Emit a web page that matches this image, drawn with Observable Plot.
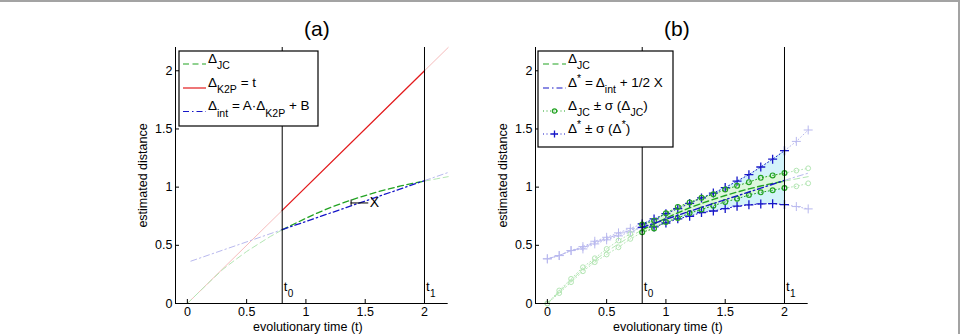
<!DOCTYPE html>
<html>
<head>
<meta charset="utf-8">
<script src="https://cdn.jsdelivr.net/npm/d3@7"></script>
<script src="https://cdn.jsdelivr.net/npm/@observablehq/plot@0.6"></script>
<style>
  body { margin: 0; background: #fff; font-family: "Liberation Sans", Arial, Helvetica, sans-serif; }
  #wrap { position: relative; width: 962px; height: 334px; overflow: hidden; background: #fff; }
  #frameTop { position: absolute; left: 0; top: 0; width: 960px; height: 2px; background: #a3a3a3; }
  #frameRight { position: absolute; left: 958px; top: 0; width: 2px; height: 334px; background: #a3a3a3; }
  .panel { position: absolute; top: 0; }
</style>
</head>
<body>
<div id="wrap">
  <div id="frameTop"></div>
  <div id="frameRight"></div>
  <div class="panel" id="pa" style="left:130px"></div>
  <div class="panel" id="pb" style="left:490px"></div>
</div>
<script>
// ---------- data ----------
const times   = [0,0.1,0.2,0.3,0.4,0.5,0.6,0.7,0.8,0.9,1.0,1.1,1.2,1.3,1.4,1.5,1.6,1.7,1.8,1.9,2.0,2.1,2.2];
const jcCurve = [0,0.100,0.198,0.294,0.372,0.447,0.512,0.576,0.633,0.683,0.733,0.779,0.822,0.860,0.895,0.928,0.958,0.985,1.010,1.032,1.052,1.071,1.090];
const dsCurve = [0.384,0.412,0.455,0.479,0.524,0.558,0.594,0.631,0.655,0.689,0.724,0.758,0.792,0.826,0.859,0.892,0.925,0.958,0.991,1.025,1.058,1.090,1.120];
const jcUpper = [0,0.112,0.212,0.312,0.389,0.469,0.541,0.598,0.678,0.712,0.776,0.830,0.869,0.908,0.938,0.979,1.011,1.043,1.080,1.101,1.121,1.142,1.162];
const jcLower = [0,0.089,0.183,0.277,0.355,0.421,0.483,0.555,0.612,0.645,0.700,0.735,0.777,0.808,0.841,0.873,0.900,0.932,0.955,0.973,0.993,1.007,1.033];
const dsUpper = [0.384,0.412,0.455,0.489,0.535,0.569,0.607,0.646,0.684,0.727,0.772,0.815,0.860,0.907,0.949,0.996,1.052,1.107,1.173,1.240,1.313,1.393,1.491];
const dsLower = [0.384,0.412,0.455,0.469,0.512,0.547,0.581,0.615,0.655,0.658,0.692,0.728,0.750,0.782,0.795,0.816,0.836,0.848,0.856,0.858,0.850,0.833,0.813];
const k2pT = [0, 0.8, 2.0, 2.2];
const k2pV = [0, 0.8, 2.0, 2.2];
const intT = [0.03, 0.8, 2.0, 2.2];
const intV = [0.364, 0.635, 1.056, 1.126];
const tBounds = [0.8, 2.0];            // t0, t1
const tLabels = ["0", "1"];
const xMarkT = [1.381, 1.53];           // "X" annotation
const xMarkV = 0.864;
const xTicks = [0, 0.5, 1, 1.5, 2];
const yTicks = [0, 0.5, 1, 1.5, 2];
const titles = ["(a)", "(b)"];

// ---------- styling ----------
const C = {
  red: "#e31a1c", redL: "#f6bcbc",
  green: "#23a323", greenL: "#b4e6b4",
  blue: "#1717c8", blueL: "#b9b9ee",
  cyan: "#d3f3fa", greenFill: "#e0f7d4"
};
const DASH = "6,3.5", DASHDOT = "6,3,1.5,3", DOT = "1,2.5";
const FONT = "'Liberation Sans', Arial, Helvetica, sans-serif";

const [t0, t1] = tBounds;
const eps = 1e-9;
const rows = times.map((t, i) => ({t, jc: jcCurve[i], ds: dsCurve[i], jcU: jcUpper[i], jcL: jcLower[i], dsU: dsUpper[i], dsL: dsLower[i]}));
const inR = (d) => d.t >= t0 - eps && d.t <= t1 + eps;
const leftR = (d) => d.t <= t0 + eps;
const rightR = (d) => d.t >= t1 - eps;
const pts = (T, V) => T.map((t, i) => ({t, v: V[i]}));
const k2p = pts(k2pT, k2pV), intl = pts(intT, intV);

function frameMarks(title) {
  return [
    Plot.ruleX(tBounds, {stroke: "#000", strokeWidth: 1}),
    Plot.ruleY([0], {stroke: "#000"}),
    Plot.ruleX([-0.1], {stroke: "#000"}),
    Plot.axisX(xTicks, {tickSize: -4, tickPadding: 8, label: null, tickFormat: d => String(d), fontSize: 12.5}),
    Plot.axisY(yTicks, {tickSize: -4, tickPadding: 7, label: null, tickFormat: d => String(d), fontSize: 12.5}),
    Plot.text([title], {frameAnchor: "top", lineAnchor: "middle", dy: -18, dx: 5, fontSize: 21}),
    Plot.text(["evolutionary time (t)"], {frameAnchor: "bottom", lineAnchor: "middle", dy: 23, dx: -4, fontSize: 12.5}),
    Plot.text(["estimated distance"], {frameAnchor: "left", lineAnchor: "middle", textAnchor: "middle", dx: -33, rotate: -90, fontSize: 12.5}),
    Plot.text(tBounds, {x: d => d, text: () => "t", frameAnchor: "bottom", lineAnchor: "middle", dy: -17, dx: 1.5, textAnchor: "start", fontSize: 13}),
    Plot.text(tBounds, {x: d => d, text: (d, i) => tLabels[i], frameAnchor: "bottom", lineAnchor: "middle", dy: -10, dx: 5.5, textAnchor: "start", fontSize: 10})
  ];
}

function makePlot(marks) {
  return Plot.plot({
    width: 340, height: 334,
    marginLeft: 45, marginRight: 22.3, marginTop: 47, marginBottom: 31,
    x: {domain: [-0.1, 2.2]},
    y: {domain: [0, 2.2]},
    style: {fontFamily: FONT, fontSize: "12px", color: "#000", background: "transparent", overflow: "visible"},
    marks
  });
}

// ---------- panel (a) ----------
const lineA = (data, color, w, dash) => Plot.line(data, {x: "t", y: "v", stroke: color, strokeWidth: w, strokeDasharray: dash});
const jcPts = rows.map(d => ({t: d.t, v: d.jc}));
const marksA = [
  lineA(k2p.filter(leftR), C.redL, 1, null),
  lineA(k2p.filter(rightR), C.redL, 1, null),
  lineA(jcPts.filter(leftR), C.greenL, 1, DASH),
  lineA(jcPts.filter(rightR), C.greenL, 1, DASH),
  lineA(intl.filter(leftR), C.blueL, 1, DASHDOT),
  lineA(intl.filter(rightR), C.blueL, 1, DASHDOT),
  lineA(k2p.filter(inR), C.red, 1.3, null),
  lineA(jcPts.filter(inR), C.green, 1.3, DASH),
  lineA(intl.filter(inR), C.blue, 1.3, DASHDOT),
  Plot.ruleY([xMarkV], {x1: xMarkT[0], x2: xMarkT[1], stroke: "#000", strokeWidth: 1}),
  Plot.ruleX([xMarkT[0]], {y1: xMarkV - 0.025, y2: xMarkV + 0.025, stroke: "#000", strokeWidth: 1}),
  Plot.text(["X"], {x: 1.578, y: xMarkV, fontSize: 14}),
  ...frameMarks(titles[0])
];
const svgA = makePlot(marksA);
document.getElementById("pa").appendChild(svgA);

// ---------- panel (b) ----------
const inner = rows.filter(inR), lft = rows.filter(leftR), rgt = rows.filter(rightR);
const ln = (data, key, color, w, dash) => Plot.line(data, {x: "t", y: key, stroke: color, strokeWidth: w, strokeDasharray: dash});
const marksB = [
  Plot.areaY(inner, {x: "t", y1: "dsL", y2: "dsU", fill: C.cyan}),
  Plot.areaY(inner, {x: "t", y1: "jcL", y2: "jcU", fill: C.greenFill, fillOpacity: 0.8}),
  // light (outside t0..t1)
  ...[lft, rgt].flatMap(seg => [
    ln(seg, "dsU", C.blueL, 1, DOT), ln(seg, "dsL", C.blueL, 1, DOT),
    ln(seg, "jcU", C.greenL, 1, DOT), ln(seg, "jcL", C.greenL, 1, DOT),
    ln(seg, "ds", C.blueL, 1, DASHDOT), ln(seg, "jc", C.greenL, 1, DASH)
  ]),
  Plot.dot(lft.concat(rgt), {x: "t", y: "dsU", symbol: "plus", r: 3, stroke: C.blueL, strokeWidth: 1}),
  Plot.dot(lft.concat(rgt), {x: "t", y: "dsL", symbol: "plus", r: 3, stroke: C.blueL, strokeWidth: 1}),
  Plot.dot(lft.concat(rgt), {x: "t", y: "jcU", symbol: "circle", r: 2.4, stroke: C.greenL, strokeWidth: 1}),
  Plot.dot(lft.concat(rgt), {x: "t", y: "jcL", symbol: "circle", r: 2.4, stroke: C.greenL, strokeWidth: 1}),
  // dark (t0..t1)
  ln(inner, "dsU", C.blue, 1, DOT), ln(inner, "dsL", C.blue, 1, DOT),
  ln(inner, "jcU", C.green, 1, DOT), ln(inner, "jcL", C.green, 1, DOT),
  Plot.dot(inner, {x: "t", y: "dsU", symbol: "plus", r: 3, stroke: C.blue, strokeWidth: 1.3}),
  Plot.dot(inner, {x: "t", y: "dsL", symbol: "plus", r: 3, stroke: C.blue, strokeWidth: 1.3}),
  Plot.dot(inner, {x: "t", y: "jcU", symbol: "circle", r: 2.4, stroke: C.green, strokeWidth: 1.2}),
  Plot.dot(inner, {x: "t", y: "jcL", symbol: "circle", r: 2.4, stroke: C.green, strokeWidth: 1.2}),
  ln(inner, "jc", C.green, 1.4, DASH),
  ln(inner, "ds", C.blue, 1.4, DASHDOT),
  ...frameMarks(titles[1])
];
const svgB = makePlot(marksB);
document.getElementById("pb").appendChild(svgB);

// ---------- legends (drawn into each svg) ----------
function legend(svg, box, entries) {
  const g = d3.select(svg).append("g").attr("font-family", FONT).attr("text-anchor", "start");
  g.append("rect").attr("x", box.x).attr("y", box.y).attr("width", box.w).attr("height", box.h)
    .attr("fill", "#fff").attr("stroke", "#000").attr("stroke-width", 1.2);
  entries.forEach(e => {
    const y = e.y;
    g.append("line").attr("x1", 53).attr("x2", 76).attr("y1", y).attr("y2", y)
      .attr("stroke", e.color).attr("stroke-width", e.w || 1.2).attr("stroke-dasharray", e.dash);
    if (e.marker === "circle") {
      g.append("circle").attr("cx", 64.5).attr("cy", y).attr("r", 2.2).attr("fill", "none").attr("stroke", e.color).attr("stroke-width", 1.2);
    } else if (e.marker === "plus") {
      g.append("path").attr("d", `M${64.5-3.5},${y}h7M64.5,${y-3.5}v7`).attr("stroke", e.color).attr("stroke-width", 1.3);
    }
    const text = g.append("text").attr("x", 78).attr("y", y - 1.5).attr("font-size", 13.5)
      .attr("fill", "#000").attr("text-anchor", "start");
    let shift = 0;
    e.parts.forEach(p => {
      const [s, kind] = Array.isArray(p) ? p : [p, "n"];
      const target = kind === "sub" ? 6.5 : kind === "sup" ? -4.5 : 0;
      const ts = text.append("tspan").text(s).attr("dy", target - shift);
      if (kind !== "n") ts.attr("font-size", 10.5);
      shift = target;
    });
  });
}

legend(svgA, {x: 49, y: 51, w: 139, h: 75}, [
  {y: 64, color: C.green, dash: DASH, parts: ["Δ", ["JC", "sub"]]},
  {y: 88, color: C.red, dash: null, parts: ["Δ", ["K2P", "sub"], " = t"]},
  {y: 111.5, color: C.blue, dash: DASHDOT, parts: ["Δ", ["int", "sub"], " = A·Δ", ["K2P", "sub"], " + B"]}
]);
legend(svgB, {x: 48, y: 51, w: 135, h: 96}, [
  {y: 64, color: C.green, dash: DASH, parts: ["Δ", ["JC", "sub"]]},
  {y: 88, color: C.blue, dash: DASHDOT, parts: ["Δ", ["*", "sup"], " = Δ", ["int", "sub"], " + 1/2 X"]},
  {y: 111, color: C.green, dash: DOT, marker: "circle", parts: ["Δ", ["JC", "sub"], " ± σ (Δ", ["JC", "sub"], ")"]},
  {y: 134, color: C.blue, dash: DOT, marker: "plus", parts: ["Δ", ["*", "sup"], " ± σ (Δ", ["*", "sup"], ")"]}
]);
</script>
</body>
</html>
